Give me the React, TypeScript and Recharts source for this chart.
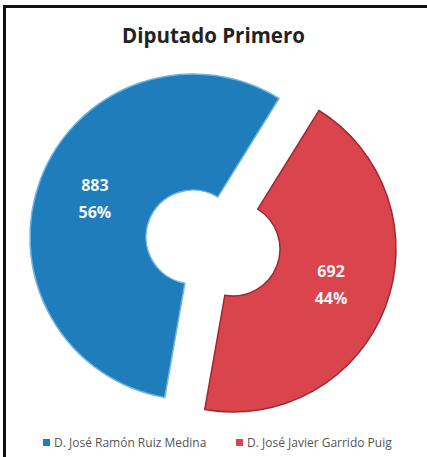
import React from "react";
import { PieChart, Pie, Cell } from "recharts";

const candidates = ["D. José Ramón Ruiz Medina", "D. José Javier Garrido Puig"];
const votes = [883, 692];
const colors = ["#1f7dbb", "#d9444d"];
const strokes = ["#6fb3de", "#9e2a31"];
const title = "Diputado Primero";

const data = candidates.map((name, i) => ({ name, value: votes[i] }));

const RAD = Math.PI / 180;

const makeLabel = (showIndex: number) => (props: any) => {
  const { cx, cy, midAngle, innerRadius, outerRadius, percent, value, index } = props;
  if (index !== showIndex) return null;
  const r = (innerRadius + outerRadius) / 2;
  const x = cx + r * Math.cos(-midAngle * RAD);
  const y = cy + r * Math.sin(-midAngle * RAD);
  return (
    <text
      x={x}
      y={y}
      textAnchor="middle"
      fill="#f4f4f4"
      fontFamily="'Open Sans', sans-serif"
      fontWeight={700}
      fontSize={16}
    >
      <tspan x={x} dy={-9}>{value}</tspan>
      <tspan x={x} dy={27}>{`${Math.round(percent * 100)}%`}</tspan>
    </text>
  );
};

export default function App() {
  return (
    <div style={{ position: "absolute", left: 0, top: 0, width: 427, height: 457, overflow: "hidden", background: "#fff" }}>
      <div
        style={{
          position: "absolute",
          left: 3,
          top: 5,
          width: 440,
          height: 470,
          borderLeft: "3px solid #111",
          borderTop: "3px solid #111",
        }}
      />
      <div
        style={{
          position: "absolute",
          left: 0,
          top: 21,
          width: 427,
          textAlign: "center",
          fontFamily: "'Open Sans', sans-serif",
          fontWeight: 700,
          fontSize: 20.5,
          color: "#222",
        }}
      >
        {title}
      </div>
      <div style={{ position: "absolute", left: 0, top: 0 }}>
        <PieChart width={427} height={457}>
          <Pie
            data={data}
            dataKey="value"
            cx={188}
            cy={232}
            innerRadius={47}
            outerRadius={163}
            startAngle={-100}
            endAngle={-460}
            isAnimationActive={false}
            label={makeLabel(0)}
            labelLine={false}
          >
            <Cell fill={colors[0]} stroke={strokes[0]} strokeWidth={1.5} />
            <Cell fill="none" stroke="none" />
          </Pie>
          <Pie
            data={data}
            dataKey="value"
            cx={228}
            cy={244}
            innerRadius={47}
            outerRadius={163}
            startAngle={-100}
            endAngle={-460}
            isAnimationActive={false}
            label={makeLabel(1)}
            labelLine={false}
          >
            <Cell fill="none" stroke="none" />
            <Cell fill={colors[1]} stroke={strokes[1]} strokeWidth={1.5} />
          </Pie>
        </PieChart>
      </div>
      {candidates.map((name, i) => (
        <div
          key={name}
          style={{
            position: "absolute",
            left: i === 0 ? 43 : 236,
            top: 434,
            display: "flex",
            alignItems: "center",
            fontFamily: "'Open Sans', sans-serif",
            fontSize: 12,
            color: "#555",
            whiteSpace: "nowrap",
          }}
        >
          <span style={{ display: "inline-block", width: 7, height: 7, background: colors[i], marginRight: 4 }} />
          {name}
        </div>
      ))}
    </div>
  );
}
